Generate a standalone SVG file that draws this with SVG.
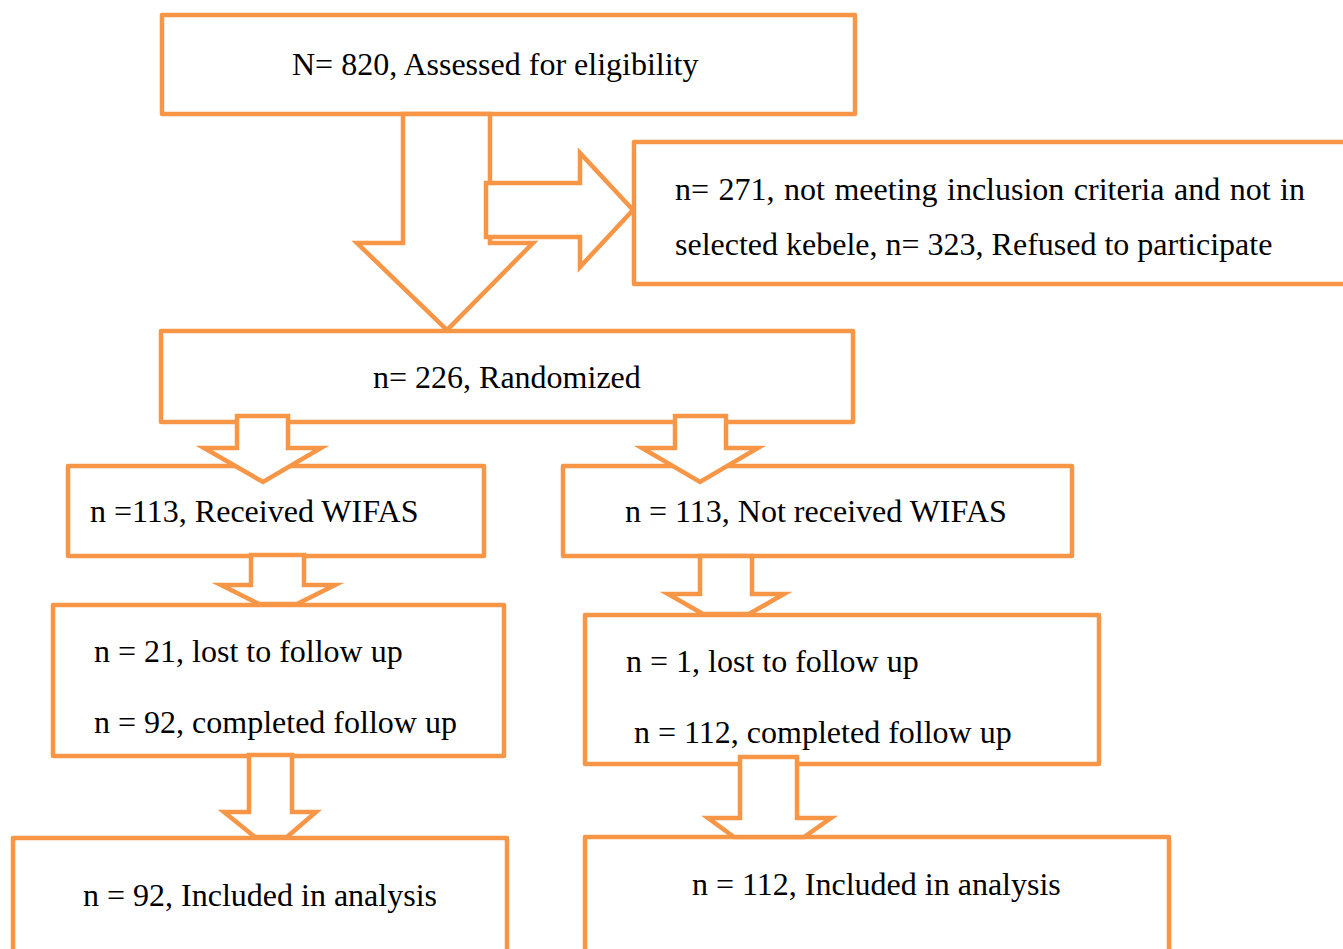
<svg xmlns="http://www.w3.org/2000/svg" width="1343" height="949" viewBox="0 0 1343 949">
  <style>
    .box { fill: #ffffff; stroke: #F79646; stroke-width: 4.5; stroke-linejoin: round; }
    .arrow { fill: #ffffff; stroke: #F79646; stroke-width: 4.5; stroke-linejoin: miter; stroke-miterlimit: 10; }
    .label { font-family: "Liberation Serif", "Times New Roman", serif; font-size: 32px; fill: #000000; }
  </style>
  <rect width="1343" height="949" fill="#ffffff"/>

  <!-- boxes -->
  <g id="node-assessed">
    <rect class="box" x="162" y="15" width="693" height="99"/>
    <text class="label" x="292" y="75">N= 820, Assessed for eligibility</text>
  </g>
  <g id="node-excluded">
    <rect class="box" x="634" y="142" width="720" height="142"/>
    <text class="label" x="675" y="200" word-spacing="1.5">n= 271, not meeting inclusion criteria and not in</text>
    <text class="label" x="675" y="255">selected kebele, n= 323, Refused to participate</text>
  </g>
  <g id="node-randomized">
    <rect class="box" x="161" y="331" width="692" height="91"/>
    <text class="label" x="373" y="388">n= 226, Randomized</text>
  </g>
  <g id="node-received">
    <rect class="box" x="68" y="466" width="416" height="90"/>
    <text class="label" x="90" y="522">n =113, Received WIFAS</text>
  </g>
  <g id="node-not-received">
    <rect class="box" x="563" y="466" width="509" height="90"/>
    <text class="label" x="625" y="522">n = 113, Not received WIFAS</text>
  </g>
  <g id="node-followup-left">
    <rect class="box" x="53" y="605" width="451" height="151"/>
    <text class="label" x="94" y="662">n = 21, lost to follow up</text>
    <text class="label" x="94" y="733">n = 92, completed follow up</text>
  </g>
  <g id="node-followup-right">
    <rect class="box" x="585" y="615" width="514" height="149"/>
    <text class="label" x="626" y="672">n = 1, lost to follow up</text>
    <text class="label" x="634" y="743">n = 112, completed follow up</text>
  </g>
  <g id="node-analysis-left">
    <rect class="box" x="13" y="838" width="494" height="130"/>
    <text class="label" x="83" y="906">n = 92, Included in analysis</text>
  </g>
  <g id="node-analysis-right">
    <rect class="box" x="585" y="837" width="584" height="130"/>
    <text class="label" x="692" y="895">n = 112, Included in analysis</text>
  </g>

  <!-- block arrows -->
  <g id="connectors">
    <polygon class="arrow" points="403,114 490,114 490,243 533,243 447,330 357,243 403,243"/>
    <polygon class="arrow" points="486,183 580,183 580,153 633,210 580,267 580,237 486,237"/>
    <polygon class="arrow" points="237,416 288,416 288,448 321,448 263,482 204,448 237,448"/>
    <polygon class="arrow" points="675,416 726,416 726,448 758,448 700,482 642,448 675,448"/>
    <polygon class="arrow" points="251,555 304,555 304,585 335,585 297,604 259,604 221,585 251,585"/>
    <polygon class="arrow" points="700,556 752,556 752,594 784,594 749,614 703,614 668,594 700,594"/>
    <polygon class="arrow" points="249,755 292,755 292,812 316,812 287,837 255,837 224,812 249,812"/>
    <polygon class="arrow" points="740,757 797,757 797,818 831,818 804,837 734,837 708,818 740,818"/>
  </g>
</svg>
